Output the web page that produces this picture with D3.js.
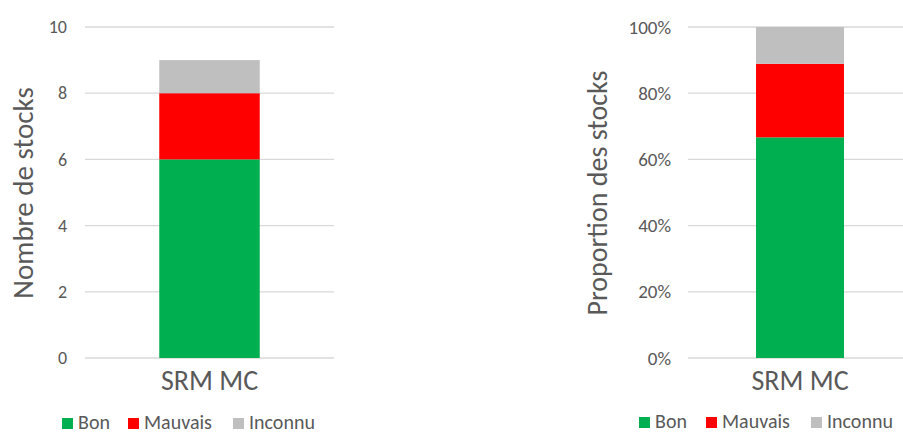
<!DOCTYPE html>
<html>
<head>
<meta charset="utf-8">
<script src="https://cdn.jsdelivr.net/npm/d3@7"></script>
<style>
  html, body { margin: 0; padding: 0; background: #fff; }
  svg { display: block; }
  text { font-family: Carlito, "Liberation Sans Narrow", "Open Sans", sans-serif; fill: #595959; }
</style>
</head>
<body>
<svg id="chart" width="903" height="433"></svg>
<script>
const categories = ["SRM MC"];
const seriesNames = ["Bon", "Mauvais", "Inconnu"];
const seriesColors = ["#00B050", "#FF0000", "#BFBFBF"];
const counts = [6, 2, 1];
const countTicks = [0, 2, 4, 6, 8, 10];
const propTicks = [0, 0.2, 0.4, 0.6, 0.8, 1.0];

const total = d3.sum(counts);
const proportions = counts.map(v => v / total);

const svg = d3.select("#chart");

function drawPanel(cfg) {
  const g = svg.append("g");
  const x = d3.scaleBand().domain(categories).range(cfg.xRange).padding(cfg.pad);
  const y = d3.scaleLinear().domain(cfg.domain).range([358, 27]);

  g.append("g").selectAll("line").data(cfg.ticks).join("line")
    .attr("x1", cfg.gridX[0]).attr("x2", cfg.gridX[1])
    .attr("y1", d => y(d)).attr("y2", d => y(d))
    .attr("stroke", "#D9D9D9").attr("stroke-width", 1.3);

  const row = {}; seriesNames.forEach((s, i) => row[s] = cfg.values[i]);
  const stack = d3.stack().keys(seriesNames)([Object.assign({cat: categories[0]}, row)]);
  g.append("g").selectAll("rect").data(stack).join("rect")
    .attr("x", x(categories[0]))
    .attr("width", x.bandwidth())
    .attr("y", d => y(d[0][1]))
    .attr("height", d => y(d[0][0]) - y(d[0][1]))
    .attr("fill", (d, i) => seriesColors[i]);

  const yAxis = d3.axisLeft(y).tickValues(cfg.ticks).tickFormat(cfg.fmt).tickSize(0).tickPadding(0);
  const ya = g.append("g").attr("transform", `translate(${cfg.tickX},0)`).call(yAxis);
  ya.select(".domain").remove();
  ya.selectAll("text").style("font-size", cfg.tickFs + "px").style("fill", "#595959")
    .style("font-family", null);

  const xAxis = d3.axisBottom(x).tickSize(0).tickPadding(0);
  const xa = g.append("g").attr("transform", `translate(0,${cfg.catY})`).call(xAxis);
  xa.select(".domain").remove();
  xa.selectAll("text").attr("dy", 0).attr("y", 0).style("font-size", "28px").style("fill", "#595959")
    .style("font-family", null);

  g.append("text")
    .attr("transform", `translate(${cfg.titleX},${cfg.titleY}) rotate(-90)`)
    .attr("text-anchor", "middle")
    .style("font-size", cfg.titleFs + "px")
    .text(cfg.title);

  const leg = g.append("g");
  seriesNames.forEach((s, i) => {
    leg.append("rect").attr("x", cfg.legX[i]).attr("y", cfg.legY - 11).attr("width", 11).attr("height", 11)
      .attr("fill", seriesColors[i]);
    leg.append("text").attr("x", cfg.legX[i] + 16).attr("y", cfg.legY)
      .style("font-size", "20px").text(s);
  });
}

drawPanel({
  values: counts, domain: [0, 10], ticks: countTicks, fmt: d3.format("d"),
  xRange: [85, 334], pad: 0.425, gridX: [85, 334],
  tickX: 67, tickFs: 18, catY: 390,
  title: "Nombre de stocks", titleX: 33, titleY: 193, titleFs: 29,
  legX: [62, 128, 233], legY: 429
});

drawPanel({
  values: proportions, domain: [0, 1], ticks: propTicks, fmt: d3.format(".0%"),
  xRange: [688, 912], pad: 0.436, gridX: [688, 903],
  tickX: 671, tickFs: 19, catY: 390,
  title: "Proportion des stocks", titleX: 607, titleY: 193, titleFs: 28,
  legX: [639, 706, 811], legY: 428
});
</script>
</body>
</html>
